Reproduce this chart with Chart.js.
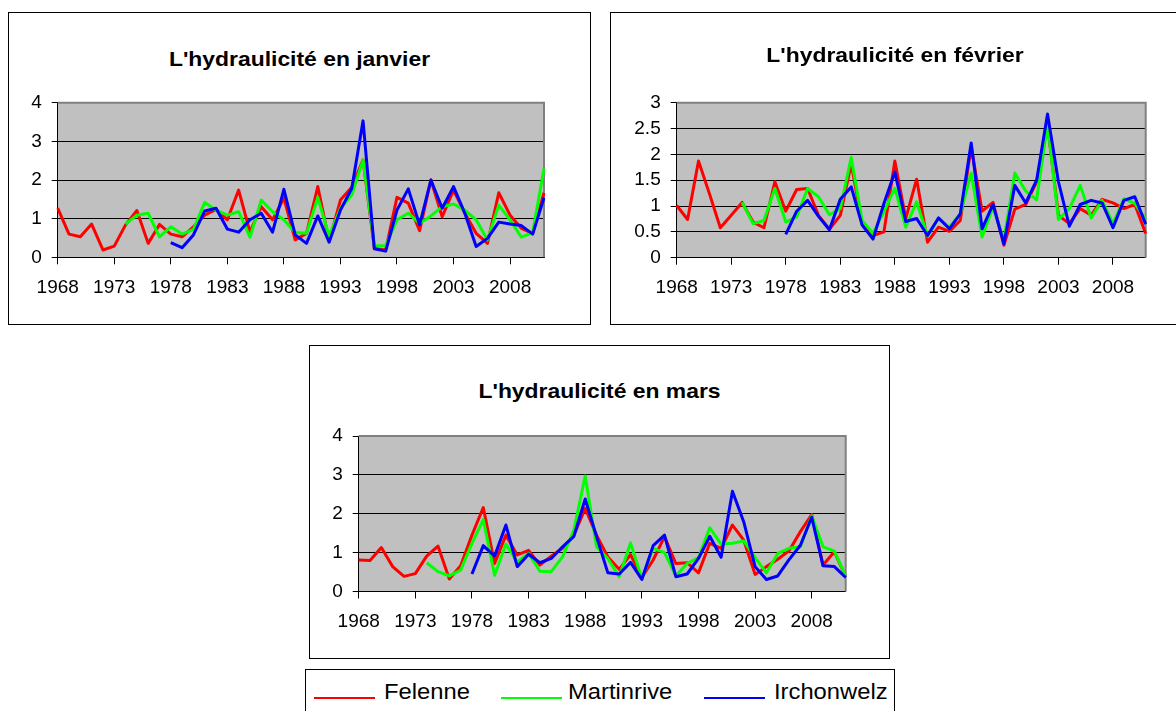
<!DOCTYPE html>
<html>
<head>
<meta charset="utf-8">
<script src="https://cdn.jsdelivr.net/npm/chart.js@4.4.1/dist/chart.umd.min.js"></script>
<style>
	body { margin: 0; background: #fff; width: 1176px; height: 711px; overflow: hidden; position: relative; font-family: "Liberation Sans", Arial, sans-serif; }
	.box { position: absolute; border: 1px solid #000; box-sizing: border-box; background: #fff; }
	.box canvas { position: absolute; left: 0; top: 0; }
	.title { position: absolute; left: 0; right: 0; text-align: center; font-weight: bold; font-size: 21px; line-height: 26px; color: #000; transform: scaleX(1.09); }
	#legend { position: absolute; left: 305px; top: 669px; width: 590px; height: 60px; border: 1px solid #000; box-sizing: border-box; background: #fff; }
	.swatch { position: absolute; top: 27px; width: 61px; height: 2px; }
	.name { position: absolute; top: 9px; font-size: 22px; line-height: 26px; color: #000; transform: scaleX(1.08); transform-origin: left center; white-space: nowrap; }
</style>
</head>
<body>
<div class="box" id="box1" style="left:8px;top:12px;width:583px;height:313px;">
	<div class="title" style="top:33px;">L'hydraulicité en janvier</div>
	<canvas id="chart1" width="581" height="311"></canvas>
</div>
<div class="box" id="box2" style="left:610px;top:12px;width:570px;height:313px;">
	<div class="title" style="top:29px;">L'hydraulicité en février</div>
	<canvas id="chart2" width="568" height="311"></canvas>
</div>
<div class="box" id="box3" style="left:309px;top:345px;width:581px;height:314px;">
	<div class="title" style="top:32px;">L'hydraulicité en mars</div>
	<canvas id="chart3" width="579" height="312"></canvas>
</div>
<div id="legend"></div>

<script>
const FONT = '"Liberation Sans", Arial, sans-serif';

// categories
const years = ['1968', '1969', '1970', '1971', '1972', '1973', '1974', '1975', '1976', '1977',
	'1978', '1979', '1980', '1981', '1982', '1983', '1984', '1985', '1986', '1987',
	'1988', '1989', '1990', '1991', '1992', '1993', '1994', '1995', '1996', '1997',
	'1998', '1999', '2000', '2001', '2002', '2003', '2004', '2005', '2006', '2007',
	'2008', '2009', '2010', '2011'];

const seriesNames = ['Felenne', 'Martinrive', 'Irchonwelz'];
const seriesColors = ['#ff0000', '#00ff00', '#0000ff'];

// janvier
const janFelenne = [1.27, 0.60, 0.53, 0.86, 0.19, 0.29, 0.84, 1.21, 0.36, 0.85,
	0.60, 0.53, 0.79, 1.09, 1.24, 0.97, 1.74, 0.66, 1.31, 0.97,
	1.53, 0.45, 0.62, 1.83, 0.41, 1.48, 1.81, 2.52, 0.23, 0.19,
	1.55, 1.40, 0.69, 2.00, 1.05, 1.74, 1.14, 0.62, 0.36, 1.67,
	1.09, 0.75, 0.62, 1.67];
const janMartinrive = [null, null, null, null, null, null, 0.86, 1.09, 1.14, 0.53,
	0.79, 0.60, 0.72, 1.42, 1.22, 1.09, 1.18, 0.52, 1.48, 1.18,
	0.97, 0.64, 0.62, 1.55, 0.55, 1.27, 1.61, 2.52, 0.30, 0.30,
	0.97, 1.14, 0.88, 1.07, 1.31, 1.38, 1.22, 0.97, 0.45, 1.35,
	0.97, 0.52, 0.64, 2.30];
const janIrchonwelz = [null, null, null, null, null, null, null, null, null, null,
	0.38, 0.25, 0.58, 1.20, 1.27, 0.73, 0.65, 0.97, 1.14, 0.65,
	1.76, 0.58, 0.36, 1.07, 0.39, 1.22, 1.78, 3.53, 0.22, 0.16,
	1.22, 1.77, 0.84, 2.00, 1.27, 1.83, 1.14, 0.28, 0.49, 0.91,
	0.86, 0.82, 0.60, 1.54];

// fevrier
const fevFelenne = [1.01, 0.74, 1.87, 1.24, 0.58, 0.82, 1.07, 0.69, 0.58, 1.47,
	0.90, 1.32, 1.34, 0.82, 0.55, 0.82, 1.82, 0.66, 0.43, 0.50,
	1.87, 0.76, 1.52, 0.30, 0.59, 0.51, 0.72, 2.15, 0.90, 1.07,
	0.24, 0.94, 1.03, 1.47, 2.57, 0.82, 0.66, 0.95, 0.82, 1.13,
	1.06, 0.95, 1.03, 0.47];
const fevMartinrive = [null, null, null, null, null, null, 1.07, 0.66, 0.72, 1.34,
	0.69, 0.79, 1.34, 1.18, 0.83, 0.95, 1.94, 0.72, 0.47, 0.89,
	1.34, 0.59, 1.08, 0.42, 0.76, 0.59, 0.85, 1.64, 0.40, 0.98,
	0.34, 1.64, 1.29, 1.12, 2.60, 0.74, 0.95, 1.40, 0.77, 1.11,
	0.66, 1.14, 1.05, 0.74];
const fevIrchonwelz = [null, null, null, null, null, null, null, null, null, null,
	0.45, 0.90, 1.11, 0.80, 0.54, 1.13, 1.37, 0.63, 0.36, 1.05,
	1.66, 0.70, 0.76, 0.43, 0.77, 0.56, 0.85, 2.22, 0.56, 1.03,
	0.27, 1.40, 1.06, 1.50, 2.78, 1.47, 0.61, 1.03, 1.11, 1.06,
	0.58, 1.11, 1.18, 0.65];

// mars
const marFelenne = [0.81, 0.80, 1.13, 0.64, 0.39, 0.46, 0.91, 1.17, 0.32, 0.66,
	1.45, 2.16, 0.72, 1.45, 0.94, 1.06, 0.68, 0.91, 1.11, 1.45,
	2.14, 1.45, 0.89, 0.57, 0.95, 0.36, 0.81, 1.41, 0.72, 0.74,
	0.48, 1.24, 1.11, 1.71, 1.32, 0.44, 0.64, 0.83, 1.05, 1.54,
	1.98, 0.68, 1.02, 0.38];
const marMartinrive = [null, null, null, null, null, null, 0.74, 0.51, 0.40, 0.55,
	1.24, 1.85, 0.42, 1.22, 0.76, 0.98, 0.52, 0.51, 0.89, 1.58,
	2.97, 1.15, 0.85, 0.38, 1.25, 0.33, 1.11, 1.00, 0.40, 0.72,
	0.87, 1.64, 1.22, 1.24, 1.30, 0.87, 0.48, 0.98, 1.11, 1.15,
	1.95, 1.15, 1.04, 0.39];
const marIrchonwelz = [null, null, null, null, null, null, null, null, null, null,
	0.45, 1.18, 0.91, 1.71, 0.64, 0.96, 0.74, 0.85, 1.15, 1.42,
	2.38, 1.41, 0.48, 0.45, 0.75, 0.31, 1.18, 1.45, 0.38, 0.45,
	0.85, 1.42, 0.88, 2.58, 1.79, 0.64, 0.31, 0.40, 0.82, 1.19,
	1.91, 0.66, 0.64, 0.36];

// grey plot area with its darker frame, like the old spreadsheet charts
const plotBg = {
	id: 'plotBg',
	beforeDraw(chart) {
		const a = chart.chartArea, ctx = chart.ctx;
		ctx.save();
		ctx.fillStyle = '#c0c0c0';
		ctx.fillRect(a.left, a.top, a.right - a.left, a.bottom - a.top);
		ctx.restore();
	},
	beforeDatasetsDraw(chart) {
		const a = chart.chartArea, ctx = chart.ctx;
		ctx.save();
		ctx.strokeStyle = '#808080';
		ctx.lineWidth = 2;
		ctx.beginPath();
		ctx.moveTo(a.left, a.top);
		ctx.lineTo(a.right, a.top);
		ctx.lineTo(a.right, a.bottom);
		ctx.stroke();
		ctx.restore();
	}
};

function drawChart(canvasId, series, yMax, yStep, box) {
	const datasets = series.map((values, i) => ({
		label: seriesNames[i],
		data: values,
		borderColor: seriesColors[i],
		borderWidth: 3,
		borderJoinStyle: 'round',
		pointRadius: 0,
		tension: 0,
		fill: false,
		order: series.length - i
	}));

	return new Chart(document.getElementById(canvasId), {
		type: 'line',
		data: { labels: years, datasets: datasets },
		options: {
			responsive: false,
			animation: false,
			devicePixelRatio: 1,
			locale: 'en-US',
			layout: { padding: { left: 0, right: box.padRight, top: box.padTop, bottom: 0 } },
			plugins: {
				legend: { display: false },
				tooltip: { enabled: false },
				title: { display: false }
			},
			scales: {
				x: {
					offset: false,
					grid: {
						drawOnChartArea: false,
						tickLength: 7,
						color: (c) => (c.index % 5 === 0 ? '#000' : 'rgba(0,0,0,0)')
					},
					border: { color: '#000', width: 1 },
					ticks: {
						autoSkip: false,
						maxRotation: 0,
						minRotation: 0,
						padding: 12,
						color: '#000',
						font: { family: FONT, size: 19 },
						callback: (v, i) => (i % 5 === 0 ? years[i] : '')
					},
					afterFit: (s) => { s.height = box.xHeight; }
				},
				y: {
					min: 0,
					max: yMax,
					grid: { color: '#000', lineWidth: 1, tickLength: 6 },
					border: { color: '#000', width: 1 },
					ticks: {
						stepSize: yStep,
						padding: 10,
						color: '#000',
						font: { family: FONT, size: 19 },
						// 0, 0.5, 1 ... without trailing zeros
						callback: (v) => String(Math.round(v * 10) / 10)
					},
					afterFit: (s) => { s.width = box.yWidth; }
				}
			}
		},
		plugins: [plotBg]
	});
}

drawChart('chart1', [janFelenne, janMartinrive, janIrchonwelz], 4, 1,
	{ yWidth: 48.7, xHeight: 66.7, padRight: 46, padTop: 89.7 });
drawChart('chart2', [fevFelenne, fevMartinrive, fevIrchonwelz], 3, 0.5,
	{ yWidth: 65.7, xHeight: 66.3, padRight: 33.3, padTop: 89.7 });
drawChart('chart3', [marFelenne, marMartinrive, marIrchonwelz], 4, 1,
	{ yWidth: 48.7, xHeight: 66.5, padRight: 43.3, padTop: 90 });

// shared legend under the march chart
const legend = document.getElementById('legend');
const swatchLeft = [8, 195, 398];
const nameLeft = [78, 262, 468];
seriesNames.forEach((name, i) => {
	const sw = document.createElement('div');
	sw.className = 'swatch';
	sw.style.left = swatchLeft[i] + 'px';
	sw.style.background = seriesColors[i];
	legend.appendChild(sw);
	const label = document.createElement('div');
	label.className = 'name';
	label.style.left = nameLeft[i] + 'px';
	label.textContent = name;
	legend.appendChild(label);
});
</script>
</body>
</html>
